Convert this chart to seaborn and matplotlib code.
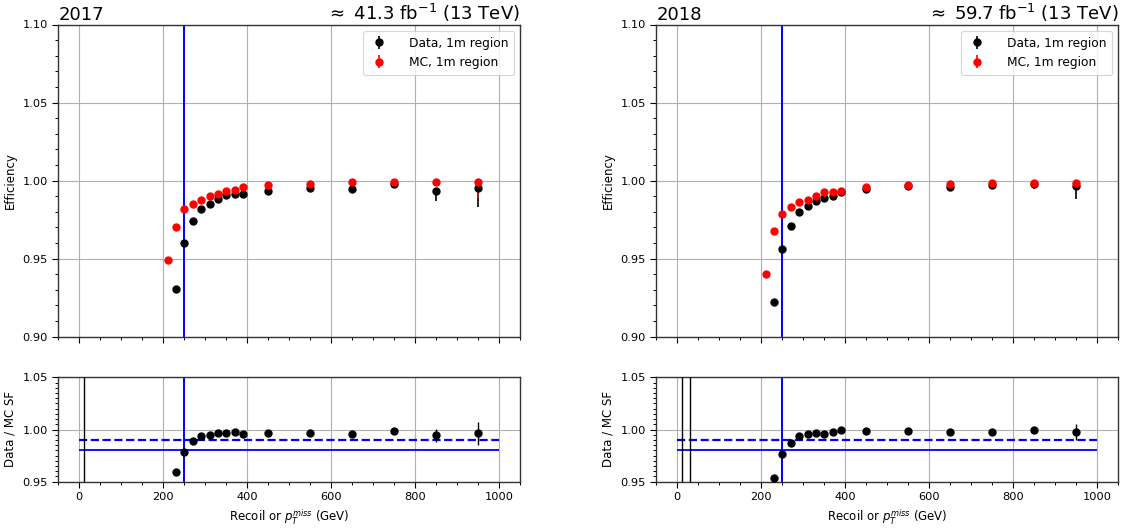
import numpy as np
import matplotlib
matplotlib.use("Agg")
import matplotlib.pyplot as plt
from matplotlib.ticker import MultipleLocator, NullFormatter
import seaborn as sns

# ---------------- data ----------------
x_mc = [210, 230, 250, 270, 290, 310, 330, 350, 370, 390, 450, 550, 650, 750, 850, 950]
x_data = [230, 250, 270, 290, 310, 330, 350, 370, 390, 450, 550, 650, 750, 850, 950]

eff_data_2017 = [0.9304, 0.9598, 0.9744, 0.9817, 0.9851, 0.9885, 0.9905, 0.9915, 0.9913,
                 0.9932, 0.9950, 0.9943, 0.9980, 0.9932, 0.9950]
err_lo_data_2017 = [0.001, 0.001, 0.001, 0.001, 0.001, 0.001, 0.001, 0.001, 0.001,
                    0.001, 0.001, 0.001, 0.001, 0.0062, 0.0120]
err_hi_data_2017 = [0.001, 0.001, 0.001, 0.001, 0.001, 0.001, 0.001, 0.001, 0.001,
                    0.001, 0.001, 0.001, 0.001, 0.002, 0.002]
eff_mc_2017 = [0.9489, 0.9700, 0.9815, 0.9853, 0.9877, 0.9902, 0.9917, 0.9935, 0.9939,
               0.9956, 0.9969, 0.9980, 0.9988, 0.9990, 0.9988, 0.9988]
err_lo_mc_2017 = [0.0005] * 14 + [0.002, 0.010]
err_hi_mc_2017 = [0.0005] * 16

eff_data_2018 = [0.9220, 0.9560, 0.9710, 0.9797, 0.9840, 0.9870, 0.9890, 0.9902, 0.9930,
                 0.9947, 0.9967, 0.9958, 0.9969, 0.9980, 0.9965]
err_lo_data_2018 = [0.001] * 14 + [0.008]
err_hi_data_2018 = [0.001] * 14 + [0.002]
eff_mc_2018 = [0.9403, 0.9675, 0.9785, 0.9832, 0.9862, 0.9877, 0.9902, 0.9928, 0.9928,
               0.9932, 0.9958, 0.9973, 0.9977, 0.9986, 0.9984, 0.9984]
err_lo_mc_2018 = [0.0005] * 14 + [0.004, 0.004]
err_hi_mc_2018 = [0.0005] * 16

x_sf_2017 = [10, 230, 250, 270, 290, 310, 330, 350, 370, 390, 450, 550, 650, 750, 850, 950]
sf_2017 = [0.50, 0.959, 0.978, 0.9888, 0.9939, 0.9945, 0.9968, 0.9968, 0.9977, 0.9955,
           0.9962, 0.9968, 0.9955, 0.9990, 0.9945, 0.9962]
sf_err_2017 = [1.0, 0.001, 0.001, 0.001, 0.001, 0.001, 0.001, 0.001, 0.001, 0.001,
               0.001, 0.001, 0.001, 0.001, 0.006, 0.011]

x_sf_2018 = [10, 30, 230, 250, 270, 290, 310, 330, 350, 370, 390, 450, 550, 650, 750, 850, 950]
sf_2018 = [0.50, 0.50, 0.9533, 0.977, 0.9875, 0.9933, 0.9958, 0.9964, 0.9958, 0.9974,
           0.9993, 0.9990, 0.9987, 0.9977, 0.9980, 0.9994, 0.9977]
sf_err_2018 = [1.0, 1.0, 0.001, 0.001, 0.001, 0.001, 0.001, 0.001, 0.001, 0.001,
               0.001, 0.001, 0.001, 0.001, 0.001, 0.002, 0.008]

years = ["2017", "2018"]
lumis = ["41.3", "59.7"]
threshold = 250
sf_nominal = 0.99
sf_low = 0.98
sf_range = [0, 1000]

# ---------------- style ----------------
sns.set_style("ticks")
plt.rcParams["font.family"] = ["DejaVu Sans"]
plt.rcParams["mathtext.fontset"] = "dejavusans"
for k in ["text.color", "axes.labelcolor", "xtick.color", "ytick.color"]:
    plt.rcParams[k] = "black"

fig = plt.figure(figsize=(11.23, 5.28), dpi=100)

W = 462 / 1123
lefts = [58.3 / 1123, 656.3 / 1123]
top_box = (1 - 336.7 / 528, 312.2 / 528)
bot_box = (1 - 481.7 / 528, 104.4 / 528)

panels = [
    (eff_data_2017, err_lo_data_2017, err_hi_data_2017, eff_mc_2017, err_lo_mc_2017, err_hi_mc_2017,
     x_sf_2017, sf_2017, sf_err_2017),
    (eff_data_2018, err_lo_data_2018, err_hi_data_2018, eff_mc_2018, err_lo_mc_2018, err_hi_mc_2018,
     x_sf_2018, sf_2018, sf_err_2018),
]

tick_fs = 8.2
lab_fs = 8.5
grid_kw = dict(color="#b0b0b0", linewidth=0.8)

for i, (ed, edl, edh, em, eml, emh, xs, sf, sfe) in enumerate(panels):
    axt = fig.add_axes([lefts[i], top_box[0], W, top_box[1]])
    axb = fig.add_axes([lefts[i], bot_box[0], W, bot_box[1]])

    # top panel
    axt.errorbar(x_data, ed, yerr=[edl, edh], fmt="o", color="black", markersize=5,
                 elinewidth=1.2, capsize=0, label="Data, 1m region", zorder=3)
    axt.errorbar(x_mc, em, yerr=[eml, emh], fmt="o", color="red", markersize=5,
                 elinewidth=1.2, capsize=0, label="MC, 1m region", zorder=3)
    axt.axvline(threshold, color="blue", linewidth=1.4, zorder=2)
    axt.set_xlim(-50, 1050)
    axt.set_ylim(0.90, 1.10)
    axt.xaxis.set_major_locator(MultipleLocator(200))
    axt.xaxis.set_minor_locator(MultipleLocator(50))
    axt.xaxis.set_major_formatter(NullFormatter())
    axt.yaxis.set_major_locator(MultipleLocator(0.05))
    axt.yaxis.set_minor_locator(MultipleLocator(0.01))
    axt.set_yticklabels([f"{v:.2f}" for v in axt.get_yticks()])
    axt.grid(True, which="major", **grid_kw)
    axt.set_ylabel("Efficiency", fontsize=lab_fs)
    axt.tick_params(axis="both", which="major", direction="out", length=4, width=0.8,
                    labelsize=tick_fs, color="black")
    axt.tick_params(axis="both", which="minor", direction="out", length=2.2, width=0.7,
                    color="black")
    axt.set_title(years[i], loc="left", fontsize=13, pad=3)
    axt.set_title(r"$\approx$ " + lumis[i] + r" fb$^{-1}$ (13 TeV)", loc="right",
                  fontsize=13, pad=3)
    leg = axt.legend(loc="upper right", fontsize=8.8, frameon=True, handlelength=1.6,
                     borderpad=0.5, labelspacing=0.5, handletextpad=1.6)
    leg.get_frame().set_edgecolor("#cccccc")
    leg.get_frame().set_linewidth(0.8)

    # bottom panel
    axb.errorbar(xs, sf, yerr=sfe, fmt="o", color="black", markersize=5,
                 elinewidth=1.0, capsize=0, zorder=3)
    axb.hlines(sf_nominal, sf_range[0], sf_range[1], colors="blue", linestyles="--",
               linewidth=1.6, zorder=2)
    axb.hlines(sf_low, sf_range[0], sf_range[1], colors="blue", linestyles="-",
               linewidth=1.3, zorder=2)
    axb.axvline(threshold, color="blue", linewidth=1.4, zorder=2)
    axb.set_xlim(-50, 1050)
    axb.set_ylim(0.95, 1.05)
    axb.xaxis.set_major_locator(MultipleLocator(200))
    axb.xaxis.set_minor_locator(MultipleLocator(50))
    axb.yaxis.set_major_locator(MultipleLocator(0.05))
    axb.yaxis.set_minor_locator(MultipleLocator(0.005))
    axb.set_yticklabels([f"{v:.2f}" for v in axb.get_yticks()])
    axb.grid(True, which="major", **grid_kw)
    axb.set_ylabel("Data / MC SF", fontsize=lab_fs)
    axb.set_xlabel(r"Recoil or $p_T^{miss}$ (GeV)", fontsize=lab_fs)
    axb.tick_params(axis="both", which="major", direction="out", length=4, width=0.8,
                    labelsize=tick_fs, color="black")
    axb.tick_params(axis="both", which="minor", direction="out", length=2.2, width=0.7,
                    color="black")

    for ax in (axt, axb):
        for s in ax.spines.values():
            s.set_color("#333333")
            s.set_linewidth(1.0)

fig.savefig("out.png", dpi=100)
